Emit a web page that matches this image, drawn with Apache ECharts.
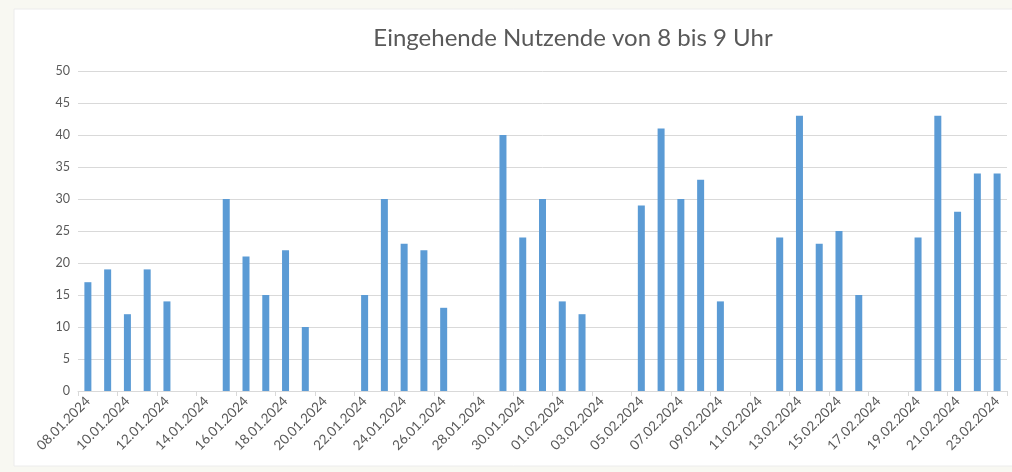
<!DOCTYPE html>
<html>
<head>
<meta charset="utf-8">
<script src="https://cdn.jsdelivr.net/npm/echarts@6/dist/echarts.min.js"></script>
<style>
html,body{margin:0;padding:0;background:#f8f8f2;}
#c{width:1012px;height:472px;}
</style>
</head>
<body>
<div id="c"></div>
<script>
const title = "Eingehende Nutzende von 8 bis 9 Uhr";
const categories = [
 "08.01.2024","09.01.2024","10.01.2024","11.01.2024","12.01.2024","13.01.2024","14.01.2024",
 "15.01.2024","16.01.2024","17.01.2024","18.01.2024","19.01.2024","20.01.2024","21.01.2024",
 "22.01.2024","23.01.2024","24.01.2024","25.01.2024","26.01.2024","27.01.2024","28.01.2024",
 "29.01.2024","30.01.2024","31.01.2024","01.02.2024","02.02.2024","03.02.2024","04.02.2024",
 "05.02.2024","06.02.2024","07.02.2024","08.02.2024","09.02.2024","10.02.2024","11.02.2024",
 "12.02.2024","13.02.2024","14.02.2024","15.02.2024","16.02.2024","17.02.2024","18.02.2024",
 "19.02.2024","20.02.2024","21.02.2024","22.02.2024","23.02.2024"
];
const values = [
 17,19,12,19,14,null,null,
 30,21,15,22,10,null,null,
 15,30,23,22,13,null,null,
 40,24,30,14,12,null,null,
 29,41,30,33,14,null,null,
 24,43,23,25,15,null,null,
 24,43,28,34,34
];
const yTicks = [0,5,10,15,20,25,30,35,40,45,50];

const chart = echarts.init(document.getElementById('c'));
chart.setOption({
  backgroundColor: '#f8f8f2',
  animation: false,
  graphic: [{
    type: 'rect', z: -10, silent: true,
    shape: {x: 14, y: 9, width: 1000, height: 457},
    style: {fill: '#ffffff', stroke: '#ececec', lineWidth: 1}
  }],
  title: {
    text: title,
    left: 568, top: 21, textAlign: 'center',
    textStyle: {fontFamily: 'Lato', fontWeight: 'normal', fontSize: 24, color: '#595959'}
  },
  grid: {left: 78, right: 5, top: 71, bottom: 81, containLabel: false},
  xAxis: {
    type: 'category',
    data: categories,
    boundaryGap: true,
    axisLine: {lineStyle: {color: '#d9d9d9'}},
    axisTick: {show: true, interval: 1, length: 5, lineStyle: {color: '#d9d9d9'}},
    axisLabel: {interval: 1, rotate: 45, fontFamily: 'Lato', fontSize: 13.5, color: '#595959', margin: 8}
  },
  yAxis: {
    type: 'value',
    min: yTicks[0], max: yTicks[yTicks.length-1], interval: 5,
    axisLine: {show: false},
    axisTick: {show: false},
    splitLine: {lineStyle: {color: '#d9d9d9'}},
    axisLabel: {fontFamily: 'Lato', fontSize: 12.5, color: '#595959', margin: 8}
  },
  series: [{
    type: 'bar',
    data: values,
    barWidth: 7,
    itemStyle: {color: '#5b9bd5'}
  }]
});
</script>
</body>
</html>
